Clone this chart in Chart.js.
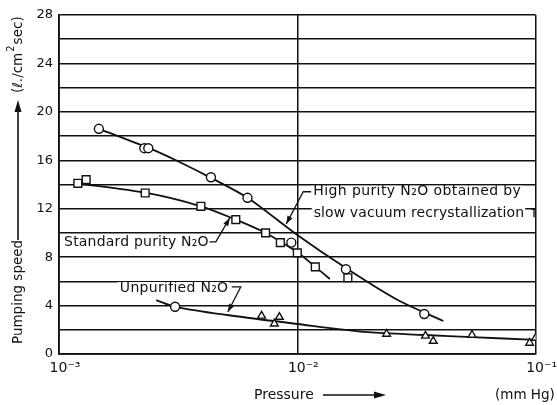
<!DOCTYPE html>
<html lang="en">
  <head>
    <meta charset="utf-8" />
    <title>Pumping speed vs pressure</title>
    <script src="https://cdn.jsdelivr.net/npm/chart.js@4.4.0/dist/chart.umd.min.js"></script>
    <style>
      body { margin: 0; background: #fff; }
      .chartContainer { position: relative; width: 557px; height: 405px; }
    </style>
  </head>
  <body>
    <div class="chartContainer">
      <canvas id="myChart"></canvas>
    </div>

    <script>
      // measured points (pressure mm Hg, pumping speed l/cm2 sec)
      const highX = [0.00147, 0.00228, 0.00237, 0.00434, 0.00618, 0.00944, 0.016, 0.0341];
      const highY = [18.6, 17.0, 17.0, 14.6, 12.9, 9.2, 7.0, 3.3];
      const stdX = [0.0012, 0.0013, 0.0023, 0.00394, 0.00552, 0.00736, 0.00849, 0.01, 0.0119, 0.0163];
      const stdY = [14.1, 14.4, 13.3, 12.2, 11.1, 10.0, 9.2, 8.35, 7.2, 6.3];
      const rawX = [0.00307, 0.00708, 0.00841, 0.00801, 0.0237, 0.0345, 0.0372, 0.0541, 0.0944, 0.1];
      const rawY = [3.9, 3.15, 3.05, 2.5, 1.65, 1.5, 1.07, 1.57, 0.91, 1.32];

      // the drawn smooth curves
      const highCurveX = [0.00147, 0.00239, 0.00325, 0.00434, 0.00618, 0.01, 0.016, 0.0264, 0.041];
      const highCurveY = [18.6, 17.0, 15.8, 14.55, 12.9, 9.83, 7.1, 4.46, 2.73];
      const stdCurveX = [0.00119, 0.00233, 0.00394, 0.00552, 0.00736, 0.01, 0.0119, 0.0137];
      const stdCurveY = [14.1, 13.3, 12.2, 11.1, 10.0, 8.4, 7.2, 6.2];
      const rawCurveX = [0.00256, 0.00307, 0.00516, 0.0098, 0.0198, 0.0345, 0.0541, 0.1];
      const rawCurveY = [4.45, 3.9, 3.2, 2.5, 1.8, 1.57, 1.4, 1.16];

      const xTickValues = [0.001, 0.01, 0.1];
      const xTickLabels = ['10⁻³', '10⁻²', '10⁻¹'];

      const pts = (xs, ys) => xs.map((x, i) => ({ x: x, y: ys[i] }));
      const FONT = 'DejaVu Sans';

      const marker = (label, xs, ys, style, r) => ({
        label: label, data: pts(xs, ys), showLine: false, order: 0,
        pointStyle: style, pointRadius: r, pointHoverRadius: r,
        pointBackgroundColor: '#fff', pointBorderColor: '#111', pointBorderWidth: 1.4
      });
      const curve = (xs, ys) => ({
        data: pts(xs, ys), showLine: true, order: 1, pointRadius: 0,
        borderColor: '#111', borderWidth: 1.8, tension: 0.3
      });

      // notes and leader lines, placed in data units
      const notes = {
        texts: [
          { t: 'High purity N₂O obtained by', x: 0.01167, y: 13.4, sp: 0.4 },
          { t: 'slow vacuum recrystallization', x: 0.01172, y: 11.65, sp: 0.1 },
          { t: 'Standard purity N₂O', x: 0.00105, y: 9.26, sp: 0.2 },
          { t: 'Unpurified N₂O', x: 0.0018, y: 5.45, sp: 0.3 }
        ],
        leaders: [
          { p: [[0.01143, 13.4], [0.01059, 13.4], [0.00899, 10.74]], arrow: true },
          { p: [[0.00428, 9.26], [0.00455, 9.26], [0.00521, 11.24]], arrow: true },
          { p: [[0.00531, 5.54], [0.00579, 5.54], [0.00511, 3.47]], arrow: true },
          { p: [[0.0962, 11.95], [0.0985, 11.95], [0.0985, 11.3]], arrow: false }
        ]
      };

      const annotate = {
        id: 'annotate',
        afterDatasetsDraw(chart) {
          const ctx = chart.ctx, xs = chart.scales.x, ys = chart.scales.y;
          ctx.save();
          ctx.font = '14px "' + FONT + '"';
          ctx.textBaseline = 'middle';
          notes.texts.forEach(n => {
            ctx.letterSpacing = n.sp + 'px';
            const px = xs.getPixelForValue(n.x), py = ys.getPixelForValue(n.y);
            const w = ctx.measureText(n.t).width;
            ctx.fillStyle = '#fff';
            ctx.fillRect(px - 2, py - 6, w + 3, 13);
            ctx.fillStyle = '#111';
            ctx.fillText(n.t, px, py);
          });
          ctx.letterSpacing = '0px';
          ctx.strokeStyle = '#111';
          ctx.lineWidth = 1.3;
          notes.leaders.forEach(l => {
            const p = l.p.map(q => [xs.getPixelForValue(q[0]), ys.getPixelForValue(q[1])]);
            ctx.beginPath();
            ctx.moveTo(p[0][0], p[0][1]);
            p.slice(1).forEach(q => ctx.lineTo(q[0], q[1]));
            ctx.stroke();
            if (l.arrow) {
              const a = p[p.length - 2], b = p[p.length - 1];
              const ang = Math.atan2(b[1] - a[1], b[0] - a[0]);
              ctx.fillStyle = '#111';
              ctx.beginPath();
              ctx.moveTo(b[0], b[1]);
              ctx.lineTo(b[0] - 8 * Math.cos(ang) + 2.8 * Math.sin(ang), b[1] - 8 * Math.sin(ang) - 2.8 * Math.cos(ang));
              ctx.lineTo(b[0] - 8 * Math.cos(ang) - 2.8 * Math.sin(ang), b[1] - 8 * Math.sin(ang) + 2.8 * Math.cos(ang));
              ctx.closePath();
              ctx.fill();
            }
          });
          ctx.restore();
        },
        afterDraw(chart) {
          // axis titles with arrows
          const ctx = chart.ctx;
          ctx.save();
          ctx.fillStyle = '#111';
          ctx.strokeStyle = '#111';
          ctx.font = '13.5px "' + FONT + '"';
          ctx.textBaseline = 'middle';
          // y title, rotated
          ctx.translate(18, 0);
          ctx.rotate(-Math.PI / 2);
          ctx.fillText('Pumping speed', -344, 0);
          ctx.lineWidth = 1.6;
          ctx.beginPath(); ctx.moveTo(-240, 0); ctx.lineTo(-110, 0); ctx.stroke();
          ctx.beginPath(); ctx.moveTo(-100, 0); ctx.lineTo(-112, -3.5); ctx.lineTo(-112, 3.5); ctx.closePath(); ctx.fill();
          let x0 = -93;
          ctx.fillText('(ℓ./cm', x0, 0);
          x0 += ctx.measureText('(ℓ./cm').width;
          ctx.font = '10px "' + FONT + '"';
          ctx.fillText('2', x0 + 1, -7);
          x0 += ctx.measureText('2').width + 2;
          ctx.font = '13.5px "' + FONT + '"';
          ctx.fillText('sec)', x0, 0);
          ctx.setTransform(1, 0, 0, 1, 0, 0);
          // x title
          ctx.font = '14px "' + FONT + '"';
          ctx.fillText('Pressure', 254, 395);
          ctx.beginPath(); ctx.moveTo(323, 395); ctx.lineTo(376, 395); ctx.stroke();
          ctx.beginPath(); ctx.moveTo(386, 395); ctx.lineTo(374, 391.5); ctx.lineTo(374, 398.5); ctx.closePath(); ctx.fill();
          ctx.font = '13.5px "' + FONT + '"';
          ctx.fillText('(mm Hg)', 495, 395);
          ctx.restore();
        }
      };

      new Chart(document.getElementById('myChart'), {
        type: 'scatter',
        data: {
          datasets: [
            marker('High purity N₂O', highX, highY, 'circle', 4.5),
            marker('Standard purity N₂O', stdX, stdY, 'rect', 5.5),
            marker('Unpurified N₂O', rawX, rawY, ['circle', 'triangle', 'triangle', 'triangle', 'triangle', 'triangle', 'triangle', 'triangle', 'triangle', 'triangle'], 4.5),
            curve(highCurveX, highCurveY),
            curve(stdCurveX, stdCurveY),
            curve(rawCurveX, rawCurveY)
          ]
        },
        options: {
          responsive: true,
          maintainAspectRatio: false,
          animation: false,
          layout: { padding: { top: 15, right: 18, left: 0, bottom: 0 } },
          plugins: { legend: { display: false }, tooltip: { enabled: false }, title: { display: false } },
          scales: {
            x: {
              type: 'logarithmic',
              min: 0.001,
              max: 0.1,
              afterBuildTicks: s => { s.ticks = xTickValues.map(v => ({ value: v })); },
              afterFit: s => { s.height = 51; },
              ticks: {
                autoSkip: false, maxRotation: 0, padding: 6, labelOffset: 6,
                color: '#111', font: { family: FONT, size: 14 },
                callback: (v, i) => xTickLabels[i]
              },
              grid: { color: '#111', lineWidth: 1.5, drawTicks: false },
              border: { display: true, color: '#111', width: 1.8 }
            },
            y: {
              min: 0,
              max: 28,
              afterFit: s => { s.width = 59; },
              ticks: {
                stepSize: 2, padding: 6, color: '#111',
                font: { family: FONT, size: 13 },
                callback: v => (v % 4 === 0 ? v : '')
              },
              grid: { color: '#111', lineWidth: 1.5, drawTicks: false },
              border: { display: true, color: '#111', width: 1.8 }
            }
          }
        },
        plugins: [annotate]
      });
    </script>
  </body>
</html>
